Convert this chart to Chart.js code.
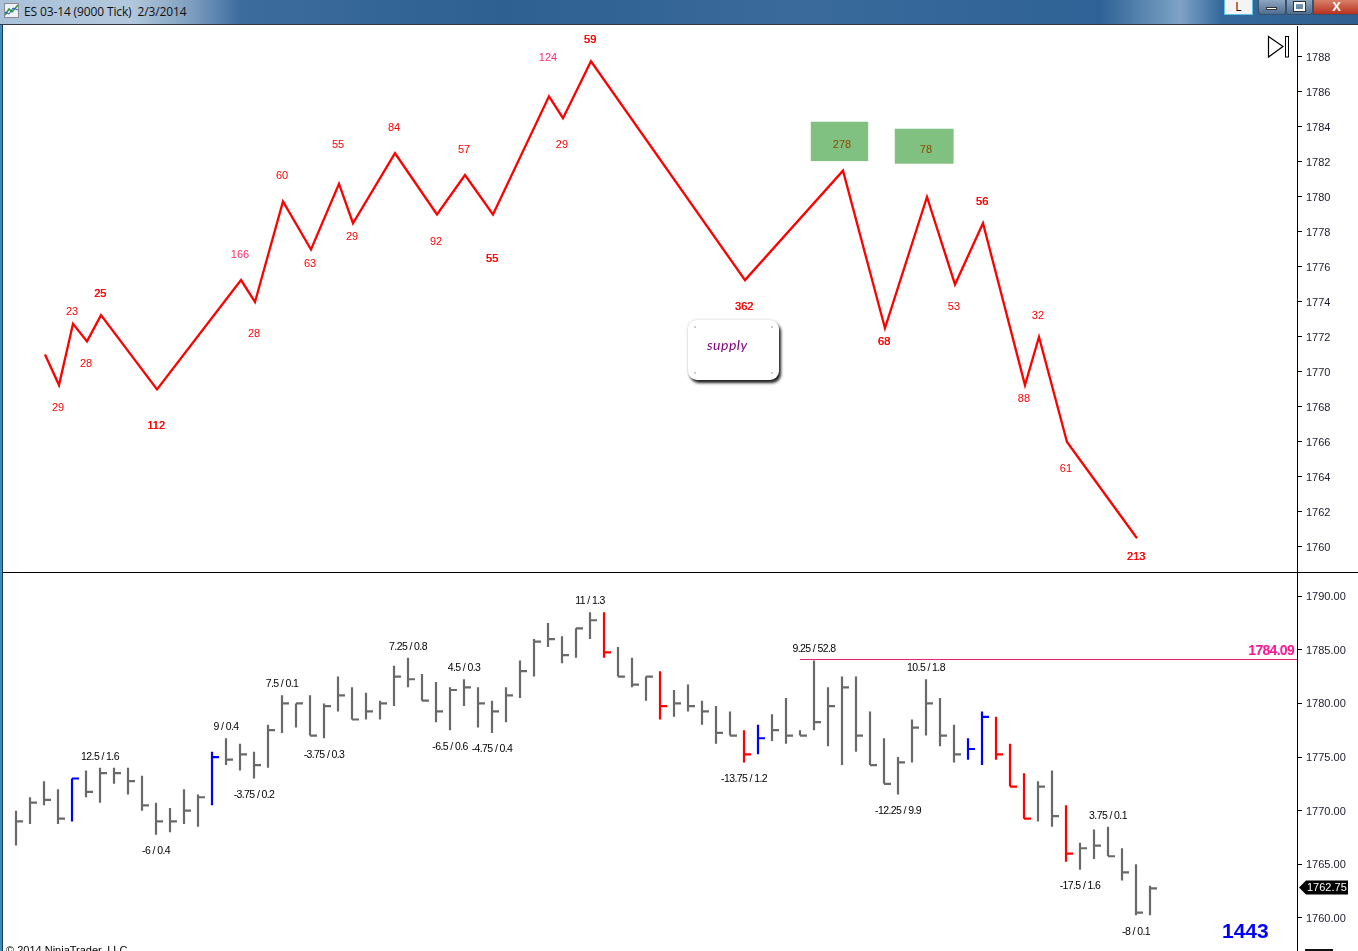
<!DOCTYPE html>
<html>
<head>
<meta charset="utf-8">
<title>ES 03-14 (9000 Tick)</title>
<script src="https://cdn.jsdelivr.net/npm/chart.js@4"></script>
<style>
html, body { margin: 0; padding: 0; background: #fff; width: 1358px; height: 951px; overflow: hidden; }
#titlebar { position: absolute; left: 0; top: 0; width: 1358px; height: 25px; border-bottom: 1px solid #333a44;
  box-sizing: border-box;
  background: linear-gradient(90deg, #a9c1d9 0, #b3c8dc 130px, #7f9fc0 190px, #3c6c9e 240px, #2f6092 500px, #3a6a9c 800px, #2f6296 1100px, #7ea3c6 1180px, #34689c 1222px, #2f5f90 1358px); }
#titletext { position: absolute; left: 24px; top: 3px; font: 12px "Open Sans", sans-serif; color: #111; white-space: pre; letter-spacing: -0.13px; }
#icon { position: absolute; left: 4px; top: 3px; }
.winbtn { position: absolute; top: 0; height: 14px; border: 1px solid #39506a; border-top: 0; border-radius: 0 0 3px 3px; box-sizing: content-box; background: linear-gradient(#8ea6c0, #4e6f92); }
.winbtn b { position: absolute; display: block; box-sizing: border-box; }
#lbtn { position: absolute; left: 1224px; top: 0; width: 29px; height: 15px; background: #f4f4f4; border: 1px solid #5ec4e6; border-top: 0; box-sizing: border-box; font: 12px "Open Sans", sans-serif; color: #111; text-align: center; line-height: 13px; }
#leftedge { position: absolute; left: 0; top: 25px; width: 2px; height: 926px; background: #3f8dbd; border-right: 1px solid #1b3a55; }
#upperWrap { position: absolute; left: 3px; top: 26px; }
#lowerWrap { position: absolute; left: 3px; top: 573px; }
#divider { position: absolute; left: 3px; top: 572px; width: 1355px; height: 1px; background: #000; }
#note { position: absolute; left: 688px; top: 320px; width: 91px; height: 60px; background: #fff; border-radius: 9px;
  box-shadow: 2px 3px 3px #222, 0 0 3px #ccc; }
#note span { position: absolute; left: 19px; top: 16px; font: italic 14px "Lato", sans-serif; color: #800080; letter-spacing: 0.5px; }
#note i { position: absolute; width: 2px; height: 2px; border-radius: 2px; background: #bbb; }
#playicon { position: absolute; left: 1267px; top: 35px; }
#clipmark { position: absolute; left: 1305px; top: 949px; width: 28px; height: 2px; background: #111; }
</style>
</head>
<body>
<div id="titlebar">
  <svg id="icon" width="15" height="15"><rect x="0.5" y="0.5" width="14" height="14" fill="#eef2f6" stroke="#889"/><polyline points="1,12 5,6 8,9 14,2" fill="none" stroke="#2a9a3a" stroke-width="1.5"/><polyline points="1,9 5,11 9,5 14,7" fill="none" stroke="#2a50c0"/></svg>
  <div id="titletext">ES 03-14 (9000 Tick)  2/3/2014</div>
</div>
<div id="lbtn">L</div>
<div class="winbtn" style="left:1258px;width:26px"><b style="left:7px;top:7px;width:11px;height:3px;background:#fff;border:1px solid #333"></b></div>
<div class="winbtn" style="left:1286px;width:25px"><b style="left:7px;top:2px;width:11px;height:9px;border:2px solid #fff;outline:1px solid #333"></b></div>
<div class="winbtn" style="left:1313px;width:45px;background:linear-gradient(#d8806a,#b8321e);border-radius:0;color:#fff;text-align:center;font:bold 13px 'Liberation Sans';line-height:13px">X</div>
<div id="leftedge"></div>
<div id="upperWrap"><canvas id="upperChart"></canvas></div>
<div id="divider"></div>
<div id="lowerWrap"><canvas id="lowerChart"></canvas></div>
<div id="note"><span>supply</span><i style="left:6px;top:6px"></i><i style="right:6px;top:6px"></i><i style="left:6px;bottom:6px"></i><i style="right:6px;bottom:6px"></i></div>
<svg id="playicon" width="24" height="24"><polygon points="1.5,1.5 16,11.5 1.5,22" fill="#fff" stroke="#000" stroke-width="1.2"/><rect x="18.5" y="1.5" width="3" height="20.5" fill="#fff" stroke="#000"/></svg>
<div id="clipmark"></div>
<script>
// upper pane: swing line
const swingIndex = [2, 3, 4, 5, 6, 10, 16, 17, 19, 21, 23, 24, 27, 30, 32, 34, 38, 39, 41, 52, 59, 62, 65, 67, 69, 72, 73, 75, 80];
const swingPrice = [1771, 1769.25, 1772.75, 1771.75, 1773.25, 1769, 1775.25, 1774, 1779.75, 1777, 1780.75, 1778.5, 1782.5, 1779, 1781.25, 1779, 1785.75, 1784.5, 1787.75, 1775.25, 1781.5, 1772.5, 1780, 1775, 1778.5, 1769.25, 1772, 1766, 1760.5];
const swingLabels = ['', '29', '23', '28', '25', '112', '166', '28', '60', '63', '55', '29', '84', '92', '57', '55', '124', '29', '59', '362', '278', '68', '78', '53', '56', '88', '32', '61', '213'];
const upperTicks = [1760, 1762, 1764, 1766, 1768, 1770, 1772, 1774, 1776, 1778, 1780, 1782, 1784, 1786, 1788];

// green supply zones on the upper pane, in bar index / price
const zoneFromIndex = [56.7, 62.7];
const zoneToIndex = [60.8, 66.9];
const zoneHigh = [1784.3, 1783.9];
const zoneLow = [1782.05, 1781.9];

// lower pane: high / low / close bars
const barLow = [1766.75, 1768.75, 1770.5, 1768.75, 1769, 1771.25, 1770.75, 1772.5, 1771.5, 1770, 1767.75, 1768, 1768.75, 1768.5, 1770.5, 1774.25, 1773.75, 1773, 1774, 1777.25, 1777.75, 1777, 1776.75, 1779.25, 1778.5, 1778.5, 1778.5, 1779.75, 1781.5, 1780.25, 1778.25, 1777.5, 1779.75, 1777.75, 1777.25, 1778.25, 1780.5, 1782.5, 1785.25, 1783.75, 1784.25, 1786, 1784.25, 1782.5, 1781.5, 1780.25, 1778.5, 1778.75, 1779.25, 1778, 1776.25, 1777, 1774.5, 1775.25, 1776.5, 1776.25, 1777, 1777.5, 1776, 1774.25, 1775.5, 1774.25, 1772.5, 1771.5, 1774.5, 1777, 1776, 1774.5, 1774.75, 1774.25, 1774.75, 1772.25, 1769.25, 1769, 1768.5, 1765.25, 1764.5, 1765.5, 1765.75, 1763.5, 1760.25, 1760.25];
const barHigh = [1770, 1771.25, 1772.75, 1772, 1773, 1773.75, 1774, 1774, 1774, 1773.25, 1770.75, 1770.25, 1772, 1771.5, 1775.5, 1776.75, 1776.25, 1775.5, 1778, 1780.75, 1780, 1780.75, 1780, 1782.5, 1781.5, 1781, 1780.25, 1783.5, 1784.25, 1782.75, 1782, 1781.5, 1782.25, 1781.5, 1780.25, 1781.5, 1784, 1786, 1787.5, 1786.25, 1787, 1788.5, 1788.5, 1785.25, 1784.25, 1782.5, 1783, 1781.25, 1781.75, 1780.25, 1779.75, 1779.25, 1777.5, 1778, 1779, 1780.5, 1777.5, 1784, 1781.5, 1782.5, 1782.5, 1779.25, 1776.75, 1775, 1778.5, 1782.25, 1780.5, 1778, 1776.75, 1779.25, 1778.75, 1776.25, 1773.5, 1772.75, 1773.75, 1770.5, 1767, 1768.25, 1768.5, 1766.5, 1765, 1763];
const barClose = [1769, 1770.75, 1771, 1769.25, 1773, 1771.75, 1773.5, 1773.5, 1772.75, 1770.5, 1769, 1769, 1770, 1771.25, 1775, 1774.75, 1775.25, 1774.25, 1777.5, 1780, 1780, 1777, 1779.75, 1780.75, 1778.5, 1779.25, 1780, 1782.5, 1782.25, 1780.25, 1779.25, 1781.25, 1781.5, 1780, 1779.25, 1780.75, 1783, 1785.75, 1786, 1784.5, 1787, 1787.75, 1784.75, 1782.5, 1781.75, 1782.5, 1779.75, 1780, 1779.75, 1779.25, 1777.25, 1777, 1775.25, 1776.75, 1777.5, 1777, 1777, 1778.25, 1779.75, 1781.5, 1777, 1774.25, 1772.5, 1774.5, 1777.75, 1780, 1777, 1775.25, 1775.75, 1778.75, 1775.25, 1772.25, 1769.25, 1772.25, 1769.5, 1766, 1766.5, 1766.75, 1765.75, 1764.25, 1760.5, 1762.75];
const blueBars = [4, 14, 53, 68, 69];
const redBars = [42, 46, 52, 70, 71, 72, 75];
const lowerTicks = [1760, 1765, 1770, 1775, 1780, 1785, 1790];

// labels on the lower pane: which bar, which end, what text
const barNoteIndex = [6, 10, 15, 17, 19, 22, 28, 31, 32, 34, 41, 52, 57, 63, 65, 76, 78, 80];
const barNoteAbove = [true, false, true, false, true, false, true, false, true, false, true, false, true, false, true, false, true, false];
const barNoteText = ['12.5 / 1.6', '-6 / 0.4', '9 / 0.4', '-3.75 / 0.2', '7.5 / 0.1', '-3.75 / 0.3', '7.25 / 0.8', '-6.5 / 0.6', '4.5 / 0.3', '-4.75 / 0.4', '11 / 1.3', '-13.75 / 1.2', '9.25 / 52.8', '-12.25 / 9.9', '10.5 / 1.8', '-17.5 / 1.6', '3.75 / 0.1', '-8 / 0.1'];

const levelPrice = 1784.09;
const levelStartIndex = 56;
const lastPrice = 1762.75;
const counterText = '1443';
const copyrightText = '\u00a9 2014 NinjaTrader, LLC';

// pixel offset of each swing label from its swing point
const swingLabelOffset = [0, 23, -12, 23, -21, 36, -25, 32, -25, 14, -39, 14, -25, 27, -25, 44, -38, 27, -21, 27, -26, 14, -47, 22, -21, 14, -21, 27, 19];
// labels that were painted twice in the source and look heavier
const heavyLabels = [4, 5, 15, 18, 19, 21, 24, 28];

const axisFont = { family: 'Liberation Sans', size: 11 };
const axisWidth = 61;

function buildBarPath(which) {
    var pts = [];
    barLow.forEach(function (low, i) {
        if (!which(i)) return;
        pts.push({ x: i, y: low }, { x: i, y: barHigh[i] }, { x: i, y: null });
        pts.push({ x: i, y: barClose[i] }, { x: i + 0.5, y: barClose[i] }, { x: i + 0.5, y: null });
    });
    return pts;
}

function priceAxis(min, max, ticks, format) {
    return {
        position: 'right',
        min: min,
        max: max,
        afterBuildTicks: function (scale) { scale.ticks = ticks.map(function (v) { return { value: v }; }); },
        afterFit: function (scale) {
            scale.width = axisWidth;
            scale.paddingTop = 0;
            scale.paddingBottom = 0;
        },
        border: { display: true, color: '#000', width: 1 },
        grid: { drawOnChartArea: false, tickLength: 5, tickColor: '#000' },
        ticks: { color: '#1a1a2e', font: axisFont, padding: 4, labelOffset: 1, autoSkip: false, maxRotation: 0, callback: format }
    };
}

const upperPlugin = {
    id: 'upperMarks',
    beforeDatasetsDraw: function (chart) {
        var x = chart.scales.x, y = chart.scales.y, ctx = chart.ctx;
        ctx.save();
        ctx.fillStyle = '#80c080';
        zoneFromIndex.forEach(function (from, i) {
            var l = x.getPixelForValue(from), t = y.getPixelForValue(zoneHigh[i]);
            ctx.fillRect(l, t, x.getPixelForValue(zoneToIndex[i]) - l, y.getPixelForValue(zoneLow[i]) - t);
        });
        ctx.restore();
    },
    afterDatasetsDraw: function (chart) {
        var x = chart.scales.x, y = chart.scales.y, ctx = chart.ctx;
        ctx.save();
        ctx.font = '11px "Liberation Sans"';
        ctx.textAlign = 'center';
        ctx.textBaseline = 'middle';
        swingLabels.forEach(function (text, i) {
            if (!text) return;
            var px = x.getPixelForValue(swingIndex[i]) - 1, py = y.getPixelForValue(swingPrice[i]) + swingLabelOffset[i];
            ctx.fillStyle = (text === '278' || text === '78') ? '#8a4a00' : (text === '124' || text === '166') ? '#ff2a6a' : '#ff0000';
            ctx.fillText(text, px, py);
            if (heavyLabels.indexOf(i) >= 0) ctx.fillText(text, px + 0.5, py);
        });
        ctx.restore();
    }
};

const lowerPlugin = {
    id: 'lowerMarks',
    afterDatasetsDraw: function (chart) {
        var x = chart.scales.x, y = chart.scales.y, ctx = chart.ctx;
        ctx.save();
        ctx.font = '10.5px "Liberation Sans"';
        ctx.letterSpacing = '-0.6px';
        ctx.fillStyle = '#000';
        ctx.textAlign = 'center';
        ctx.textBaseline = 'middle';
        barNoteIndex.forEach(function (bar, i) {
            var py = barNoteAbove[i] ? y.getPixelForValue(barHigh[bar]) - 11 : y.getPixelForValue(barLow[bar]) + 16.5;
            ctx.fillText(barNoteText[i], x.getPixelForValue(bar), py);
        });
        // level label
        ctx.textAlign = 'right';
        ctx.font = 'bold 14px "Liberation Sans"';
        ctx.letterSpacing = '-0.7px';
        ctx.fillStyle = '#ff1493';
        ctx.fillText(levelPrice.toFixed(2), chart.chartArea.right - 3, y.getPixelForValue(levelPrice) - 8);
        // bar counter
        ctx.letterSpacing = '0px';
        ctx.textAlign = 'left';
        ctx.font = 'bold 21px "Liberation Sans"';
        ctx.fillStyle = '#0000ff';
        ctx.fillText(counterText, 1219, 359);
        // copyright, cut off by the window edge
        ctx.font = '11px "Liberation Sans"';
        ctx.fillStyle = '#000';
        ctx.textBaseline = 'alphabetic';
        ctx.fillText(copyrightText, 3, 381);
        ctx.restore();
    },
    afterDraw: function (chart) {
        var y = chart.scales.y, ctx = chart.ctx, py = y.getPixelForValue(lastPrice) - 1, l = chart.chartArea.right + 2;
        ctx.save();
        ctx.fillStyle = '#000';
        ctx.beginPath();
        ctx.moveTo(l, py);
        ctx.lineTo(l + 7, py - 7);
        ctx.lineTo(l + 49, py - 7);
        ctx.lineTo(l + 49, py + 7);
        ctx.lineTo(l + 7, py + 7);
        ctx.closePath();
        ctx.fill();
        ctx.fillStyle = '#fff';
        ctx.font = '11px "Liberation Sans"';
        ctx.textAlign = 'left';
        ctx.textBaseline = 'middle';
        ctx.fillText(lastPrice.toFixed(2), l + 8, py + 0.5);
        ctx.restore();
    }
};

function init() {
    var upperCanvas = document.getElementById('upperChart'),
        lowerCanvas = document.getElementById('lowerChart');

    new Chart(upperCanvas.getContext('2d'), {
        type: 'line',
        data: {
            datasets: [{
                data: swingIndex.map(function (v, i) { return { x: v, y: swingPrice[i] }; }),
                borderColor: '#ff0000',
                borderWidth: 2.3,
                pointRadius: 0,
                tension: 0,
                borderJoinStyle: 'miter'
            }]
        },
        options: {
            responsive: false,
            devicePixelRatio: 1,
            animation: false,
            layout: { padding: 0 },
            plugins: { legend: { display: false }, title: { display: false }, tooltip: { enabled: false } },
            scales: {
                x: { type: 'linear', display: false, min: -1, max: 91.43 },
                y: priceAxis(1758.57, 1789.77, upperTicks, function (v) { return String(v); })
            }
        },
        plugins: [upperPlugin]
    });

    function barSet(color, which) {
        return { data: buildBarPath(which), borderColor: color, borderWidth: 2.2, pointRadius: 0, tension: 0, spanGaps: false, borderCapStyle: 'butt' };
    }

    new Chart(lowerCanvas.getContext('2d'), {
        type: 'line',
        data: {
            datasets: [
                { data: [{ x: levelStartIndex, y: levelPrice }, { x: 91.5, y: levelPrice }], borderColor: '#e0207f', borderWidth: 1, pointRadius: 0 },
                barSet('#696969', function (i) { return blueBars.indexOf(i) < 0 && redBars.indexOf(i) < 0; }),
                barSet('#0000ff', function (i) { return blueBars.indexOf(i) >= 0; }),
                barSet('#ff0000', function (i) { return redBars.indexOf(i) >= 0; })
            ]
        },
        options: {
            responsive: false,
            devicePixelRatio: 1,
            animation: false,
            layout: { padding: 0 },
            plugins: { legend: { display: false }, title: { display: false }, tooltip: { enabled: false } },
            scales: {
                x: { type: 'linear', display: false, min: -0.929, max: 91.5 },
                y: priceAxis(1756.92, 1792.155, lowerTicks, function (v) { return v.toFixed(2); })
            }
        },
        plugins: [lowerPlugin]
    });
}

document.getElementById('upperChart').width = 1355;
document.getElementById('upperChart').height = 546;
document.getElementById('lowerChart').width = 1355;
document.getElementById('lowerChart').height = 378;
init();
</script>
</body>
</html>
